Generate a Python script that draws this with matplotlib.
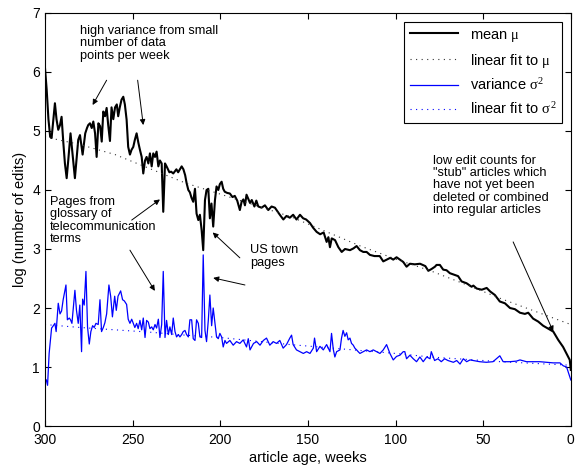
import matplotlib
matplotlib.use("Agg")
import matplotlib.pyplot as plt

plt.rcParams['font.family'] = ['Liberation Sans', 'DejaVu Sans']
# upright serif greek letters, like the Symbol font in the original
plt.rcParams['mathtext.fontset'] = 'custom'
plt.rcParams['mathtext.rm'] = 'Liberation Serif'
plt.rcParams['mathtext.it'] = 'Liberation Serif'

# mean of log edit counts (article age in weeks)
weeks_mu = [300, 299, 298, 297, 296.2, 295.2, 294.3, 293.4, 292.4, 291.4, 290.5, 289.5, 288.6, 287.6,
            286.7, 285.4, 284.2, 282.9, 282, 281, 280, 278.5, 277, 276, 275.3, 274.3, 273.3, 272.4,
            271.4, 270.5, 269.5, 268.5, 267.6, 266.7, 265.7, 264.8, 263.9, 262.9, 262, 261, 260, 259,
            258.2, 257.3, 256.3, 255.3, 254.4, 253.4, 252.5, 251.5, 250.6, 249.6, 248.7, 247.7, 246.7,
            245.8, 244.8, 243.9, 242.9, 242, 241, 240.1, 239.1, 238.2, 237.2, 236.3, 235.3, 234.4,
            233.4, 232.5, 231.5, 230.6, 229, 228, 226.8, 225, 224, 222, 221, 220, 219.2, 218.2, 217.3,
            216.4, 215.4, 214.4, 213.5, 212.5, 211.6, 210.6, 209.7, 208.7, 207.8, 206.8, 205.9, 205,
            204, 203, 202.1, 201.1, 200.2, 199.2, 198.3, 197.4, 196, 194.5, 193, 191.7, 190.3, 188.8,
            187.8, 186.8, 185.9, 185, 183, 182, 180.5, 179.4, 178.3, 176.4, 174.5, 172.6, 170.7, 168.8,
            166, 164, 162.2, 160.3, 158.4, 156.5, 154.5, 152.7, 151, 148.8, 147, 145, 143, 141, 139.3,
            138.3, 137.4, 136.4, 134.5, 132.6, 130.7, 128.8, 126, 124, 122.2, 120.3, 118.4, 116.5,
            114.6, 112, 109, 107, 105, 103, 101.3, 99.4, 97.5, 95.6, 93.7, 91.8, 89, 86, 83, 81.3,
            79.5, 77.5, 76.6, 74.7, 72.8, 70.9, 69, 66.2, 64.3, 62.3, 59.5, 56.6, 55.6, 53.7, 50.8,
            48, 46, 43.3, 40.5, 37.6, 34.7, 31.9, 29, 26.2, 24.3, 21.5, 18.6, 15.8, 12.9, 10, 7.2,
            4.4, 2.5, 0.6, 0]
mu = [6.08, 5.7, 5.2, 4.9, 4.88, 5.2, 5.47, 5.2, 5.02, 5.1, 5.24, 4.8, 4.45, 4.2,
      4.5, 4.96, 4.6, 4.2, 4.5, 4.85, 4.93, 4.6, 4.96, 5.05, 5.1, 5.13, 5.05, 5.16,
      4.96, 4.56, 5.13, 5.08, 4.82, 5.33, 5.25, 5.39, 5.1, 4.83, 5.4, 5.2, 5.4, 5.45,
      5.25, 5.4, 5.53, 5.58, 5.45, 5.19, 4.73, 4.6, 4.68, 4.73, 4.85, 4.96, 4.8,
      4.68, 4.56, 4.28, 4.5, 4.56, 4.45, 4.62, 4.4, 4.62, 4.56, 4.65, 4.4, 4.5,
      4.45, 3.63, 4.45, 4.4, 4.3, 4.31, 4.28, 4.35, 4.3, 4.4, 4.35, 4.25, 4.12, 4.0, 3.96,
      3.87, 3.8, 4.02, 3.6, 3.49, 3.58, 3.32, 2.98, 3.83, 4.0, 4.02, 3.52, 3.77,
      3.38, 3.83, 4.06, 4.0, 4.1, 4.14, 4.02, 3.97, 3.95, 3.94, 3.88, 3.9, 3.82, 3.66,
      3.8, 3.84, 3.74, 3.92, 3.78, 3.83, 3.72, 3.82, 3.72, 3.7, 3.74, 3.66, 3.72, 3.7,
      3.58, 3.5, 3.56, 3.53, 3.58, 3.5, 3.58, 3.52, 3.5, 3.44, 3.36, 3.29, 3.25, 3.28, 3.12,
      3.2, 3.03, 3.18, 3.15, 3.03, 2.95, 3.0, 2.98, 3.01, 3.05, 2.98, 2.95, 2.95,
      2.9, 2.88, 2.88, 2.79, 2.82, 2.85, 2.82, 2.86, 2.82, 2.78, 2.7, 2.75, 2.74, 2.75, 2.71, 2.63,
      2.66, 2.7, 2.73, 2.73, 2.65, 2.64, 2.59, 2.56, 2.54, 2.45, 2.42, 2.36, 2.38, 2.33, 2.31,
      2.34, 2.28, 2.22, 2.11, 2.08, 2.0, 1.98, 1.92, 1.9, 1.92, 1.82, 1.77, 1.7, 1.65, 1.6, 1.46,
      1.34, 1.23, 1.12, 0.95]

# variance of log edit counts
weeks_var = [300, 299.2, 298.5, 297.6, 296.2, 295.2, 294.3, 293.6, 292.4, 291.4, 290.5, 289.6, 288,
             287.2, 286.1, 285.4, 284.6, 283.8, 282.9, 282, 281, 280.1, 279.1, 278.5, 277.6, 276.6,
             275.7, 274.7, 273.8, 272.8, 271.9, 270.9, 269.6, 268.6, 267.7, 266.7, 265.8, 264.8,
             263.5, 262.5, 261.5, 260.2, 259.3, 258.3, 256.8, 255.7, 254.7, 253.4, 252.5, 251.5,
             250.5, 248.7, 247.7, 246.8, 245.8, 244.8, 243.9, 242.9, 242, 241, 240.1, 239.1, 238.2,
             237.2, 236.3, 235.3, 234.4, 233.4, 232.5, 231.5, 230.6, 229.6, 228.7, 227.7, 226.8,
             225.8, 224.9, 223.9, 223, 222, 221.1, 220.1, 219.2, 218.2, 217.3, 216.3, 215.4, 214.4,
             213.5, 212.5, 211.6, 210.6, 209.7, 208.7, 207.8, 206.8, 205.9, 204.9, 204, 203, 202.1,
             201.1, 200.2, 199.2, 198.3, 197.3, 196.4, 194.5, 192.6, 190.7, 188.8, 186.9, 185, 184,
             183, 181, 179.2, 177.3, 175.4, 173.6, 171.7, 169.8, 167.9, 166, 164.1, 162.2, 160.3,
             159.3, 158.4, 156.5, 154.6, 152.6, 150.7, 148.8, 146.9, 146.2, 145, 143.1, 141.2, 139.3,
             137.4, 136.5, 135.5, 134.6, 133.6, 131.7, 130.8, 129.9, 128.9, 127.9, 127, 126, 125.1,
             124.1, 123.2, 122.2, 121.3, 120.3, 118.4, 116.5, 114.6, 112.7, 110.8, 108.9, 107, 105.1,
             103.2, 101.3, 99.4, 97.5, 95.6, 94.7, 93.7, 91.8, 89.9, 88, 86.1, 84.2, 82.2, 80.3, 79.6,
             77.7, 75.8, 73.9, 72, 70.1, 67, 65.1, 63.2, 61.3, 59.4, 57.5, 55.6, 52, 48.2, 44.4, 40.5,
             38.6, 34.8, 31, 29, 25.3, 21.5, 17.7, 13.9, 10, 6.2, 4.3, 2.4, 0]
var = [0.8, 0.78, 0.69, 1.23, 1.66, 1.7, 1.74, 1.6, 2.08, 1.9, 1.95, 2.14, 2.39,
       1.8, 1.83, 1.8, 1.74, 2.0, 2.3, 1.96, 1.74, 2.05, 1.26, 2.15, 2.05, 2.62,
       1.68, 1.39, 1.6, 1.7, 1.67, 1.74, 1.72, 2.14, 1.6, 1.67, 1.75, 1.9,
       2.39, 2.2, 1.85, 2.2, 1.96, 2.2, 2.29, 2.14, 2.12, 2.06, 1.81, 1.74,
       1.81, 1.67, 1.74, 1.65, 1.79, 1.63, 1.83, 1.5, 1.79, 1.76, 1.65, 1.68, 1.63,
       1.72, 1.66, 1.81, 1.5, 1.72, 2.62, 1.5, 1.79, 1.55, 1.68, 1.55, 1.83,
       1.6, 1.51, 1.55, 1.51, 1.55, 1.6, 1.62, 1.55, 1.51, 1.8, 1.8, 1.48, 1.45,
       1.8, 1.74, 1.51, 1.5, 2.9, 1.62, 1.43, 1.79, 2.22, 1.7, 2.0, 1.74, 1.51,
       1.48, 1.57, 1.51, 1.34, 1.45, 1.4, 1.45, 1.37, 1.43, 1.4, 1.46, 1.34, 1.48,
       1.29, 1.4, 1.43, 1.37, 1.45, 1.49, 1.37, 1.43, 1.4, 1.45, 1.32, 1.38, 1.49,
       1.54, 1.38, 1.29, 1.26, 1.23, 1.26, 1.23, 1.32, 1.49, 1.26, 1.35, 1.29, 1.38,
       1.26, 1.57, 1.3, 1.17, 1.26, 1.29, 1.49, 1.62, 1.52, 1.58, 1.46, 1.49, 1.4,
       1.37, 1.32, 1.29, 1.26, 1.23, 1.26, 1.29, 1.26, 1.29, 1.26, 1.23, 1.29, 1.38,
       1.23, 1.12, 1.18, 1.2, 1.26, 1.26, 1.14, 1.2, 1.14, 1.09, 1.17, 1.09, 1.17, 1.14, 1.26,
       1.11, 1.14, 1.09, 1.14, 1.11, 1.08, 1.11, 1.05, 1.14, 1.09, 1.12, 1.11, 1.09, 1.08, 1.09, 1.19,
       1.09, 1.09, 1.1, 1.12, 1.09, 1.09, 1.09, 1.08, 1.07, 1.07, 1.02, 1.0, 0.78]

# dotted fit curves
weeks_fit = [300, 280, 260, 240, 220, 200, 180, 160, 140, 120, 100, 80, 60, 40, 20, 0]
mu_fit = [4.9, 4.77, 4.6, 4.36, 4.12, 3.93, 3.74, 3.55, 3.3, 3.05, 2.83, 2.63, 2.4, 2.16, 1.94, 1.72]
var_fit = [1.72, 1.67, 1.63, 1.59, 1.54, 1.5, 1.44, 1.38, 1.33, 1.28, 1.23, 1.17, 1.13, 1.09, 1.06, 1.03]

fig = plt.figure(figsize=(5.76, 4.71), dpi=100)
ax = fig.add_axes([0.078, 0.0955, 0.913, 0.877])

ax.plot(weeks_mu, mu, color='black', lw=1.5, label=r'mean $\mu$')
ax.plot(weeks_fit, mu_fit, color='#333333', lw=0.8, ls=(0, (1, 4)), label=r'linear fit to $\mu$')
ax.plot(weeks_var, var, color='#0000ff', lw=0.9, label=r'variance $\sigma^2$')
ax.plot(weeks_fit, var_fit, color='#0000ff', lw=0.8, ls=(0, (1, 4)), label=r'linear fit to $\sigma^2$')

ax.set_xlim(300, 0)
ax.set_ylim(0, 7)
ax.set_xticks([300, 250, 200, 150, 100, 50, 0])
ax.set_yticks(range(0, 8))
ax.tick_params(direction='in', top=True, right=True, length=4, labelsize=10)
ax.tick_params(axis='x', pad=5)
ax.set_xlabel('article age, weeks', fontsize=10.5, labelpad=3)
ax.set_ylabel('log (number of edits)', fontsize=10.5, labelpad=4)

leg = ax.legend(loc='upper right', fontsize=10.5, frameon=True, fancybox=False,
                edgecolor='black', labelspacing=0.55, handlelength=3.3,
                borderaxespad=0.6, framealpha=1)
leg.get_frame().set_linewidth(0.8)

arrow = dict(arrowstyle='-|>', color='black', lw=0.7, mutation_scale=8, shrinkA=0, shrinkB=0)
fs = 9.2

ax.text(280, 6.8, 'high variance from small\nnumber of data\npoints per week',
        fontsize=fs, va='top', ha='left', linespacing=1.05)
ax.annotate('', xy=(272.8, 5.44), xytext=(264.8, 5.86), arrowprops=arrow)
ax.annotate('', xy=(243.9, 5.1), xytext=(247.1, 5.86), arrowprops=arrow)

ax.text(297.1, 3.9, 'Pages from\nglossary of\ntelecommunication\nterms',
        fontsize=fs, va='top', ha='left', linespacing=1.05)
ax.annotate('', xy=(234.4, 3.84), xytext=(250.5, 3.49), arrowprops=arrow)
ax.annotate('', xy=(237.3, 2.29), xytext=(251.5, 2.98), arrowprops=arrow)

ax.text(183, 3.08, 'US town\npages', fontsize=fs, va='top', ha='left', linespacing=1.05)
ax.annotate('', xy=(204.3, 3.28), xytext=(188.8, 2.85), arrowprops=arrow)
ax.annotate('', xy=(204.0, 2.51), xytext=(185.9, 2.39), arrowprops=arrow)

ax.text(78.7, 4.6, 'low edit counts for\n"stub" articles which\nhave not yet been\n'
        'deleted or combined\ninto regular articles',
        fontsize=fs, va='top', ha='left', linespacing=1.05)
ax.annotate('', xy=(10.0, 1.6), xytext=(32.9, 3.12), arrowprops=arrow)

fig.savefig('out.png', dpi=100)
